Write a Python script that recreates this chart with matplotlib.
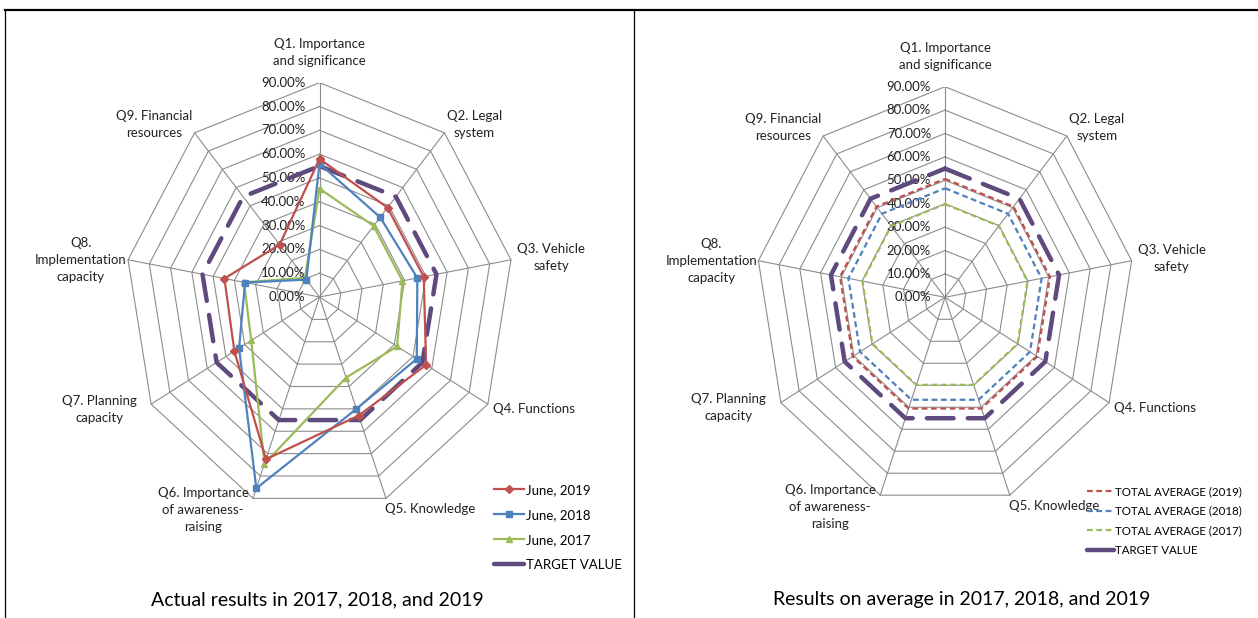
import numpy as np
import matplotlib
matplotlib.use("Agg")
import matplotlib.pyplot as plt
from matplotlib.lines import Line2D

plt.rcParams['font.family'] = ['Lato', 'DejaVu Sans']

# ---- data (percent) ----
categories = [
    "Q1. Importance\nand significance",
    "Q2. Legal\nsystem",
    "Q3. Vehicle\nsafety",
    "Q4. Functions",
    "Q5. Knowledge",
    "Q6. Importance\nof awareness-\nraising",
    "Q7. Planning\ncapacity",
    "Q8.\nImplementation\ncapacity",
    "Q9. Financial\nresources",
]
june_2019 = [58.0, 49.0, 49.0, 57.0, 53.0, 72.5, 45.5, 44.7, 28.7]
june_2018 = [56.0, 43.7, 46.0, 52.0, 50.0, 85.5, 43.0, 35.0, 9.5]
june_2017 = [45.5, 39.0, 39.0, 41.5, 36.0, 74.5, 36.5, 35.5, 10.5]
target_value = [55.0, 55.0, 55.0, 55.0, 55.0, 55.0, 55.0, 55.0, 55.0]

avg_2019 = [50.6, 50.6, 50.6, 50.6, 50.6, 50.6, 50.6, 50.6, 50.6]
avg_2018 = [46.6, 46.6, 46.6, 46.6, 46.6, 46.6, 46.6, 46.6, 46.6]
avg_2017 = [39.8, 39.8, 39.8, 39.8, 39.8, 39.8, 39.8, 39.8, 39.8]

ring_ticks = [0, 10, 20, 30, 40, 50, 60, 70, 80, 90]
captions = ["Actual results in 2017, 2018, and 2019",
            "Results on average in 2017, 2018, and 2019"]

# ---- styling ----
RED, BLUE, GREEN, PURPLE = "#C0504D", "#4F81BD", "#9BBB59", "#5F4A7E"
GRID = "#8C8C8C"
W, H = 1258, 618
RMAX = ring_ticks[-1]

fig = plt.figure(figsize=(W / 100, H / 100), dpi=100)
fig.patch.set_facecolor("white")

n = len(categories)
theta = np.arange(n) * 2 * np.pi / n  # clockwise from top


def closed(vals):
    v = np.asarray(vals, dtype=float)
    t = np.append(theta, theta[0])
    v = np.append(v, v[0])
    return v * np.sin(t), v * np.cos(t)


# offsets (pixels) of each category label from its outer vertex
label_offsets = [(0, 30), (30, 8), (40, 2), (46, -5), (44, -11),
                 (-50, -12), (-52, -5), (-47, 0), (-40, 8)]


def radar_axes(cx, cy, rx, ry):
    ax = fig.add_axes([(cx - rx) / W, (H - cy - ry) / H, 2 * rx / W, 2 * ry / H])
    ax.set_xlim(-RMAX, RMAX)
    ax.set_ylim(-RMAX, RMAX)
    ax.axis("off")
    # polygon grid
    for r in ring_ticks[1:]:
        x, y = closed([r] * n)
        ax.plot(x, y, color=GRID, lw=0.8, zorder=1)
    for t in theta:
        ax.plot([0, RMAX * np.sin(t)], [0, RMAX * np.cos(t)], color=GRID, lw=0.8, zorder=1)
    # radial tick labels along the first spoke
    for r in ring_ticks:
        ax.annotate(f"{r:.2f}%", xy=(0, r), xytext=(-14, 0), textcoords="offset pixels",
                    ha="right", va="center", fontsize=9.5, color="#222222", zorder=2,
                    annotation_clip=False)
    # category labels
    for t, lab, (dx, dy) in zip(theta, categories, label_offsets):
        ax.annotate(lab, xy=(RMAX * np.sin(t), RMAX * np.cos(t)), xytext=(dx, dy),
                    textcoords="offset pixels", ha="center", va="center",
                    multialignment="center", fontsize=9.5, linespacing=1.5,
                    color="#222222", annotation_clip=False)
    return ax


# ---- left: actual results ----
ax1 = radar_axes(319.5, 297.0, 194.4, 214.3)
x, y = closed(target_value)
ax1.plot(x, y, color=PURPLE, lw=3.2, dashes=(6, 3.2), dash_capstyle="round", zorder=3)
for vals, col, mk, ms in [(june_2019, RED, "D", 4.5), (june_2018, BLUE, "s", 5),
                          (june_2017, GREEN, "^", 5)][::-1]:
    x, y = closed(vals)
    ax1.plot(x, y, color=col, lw=1.6, marker=mk, markersize=ms, zorder=4)

h1 = [Line2D([], [], color=RED, lw=1.6, marker="D", markersize=4.5),
      Line2D([], [], color=BLUE, lw=1.6, marker="s", markersize=5),
      Line2D([], [], color=GREEN, lw=1.6, marker="^", markersize=5),
      Line2D([], [], color=PURPLE, lw=3.2, solid_capstyle="round")]
fig.legend(h1, ["June, 2019", "June, 2018", "June, 2017", "TARGET VALUE"],
           loc="upper left", bbox_to_anchor=(494 / W, 1 - 484 / H), frameon=False,
           fontsize=9.5, handlelength=2.3, handletextpad=0.15, labelspacing=0.98,
           borderpad=0, borderaxespad=0)

# ---- right: averages ----
ax2 = radar_axes(945.0, 297.3, 189.5, 210.6)
x, y = closed(target_value)
ax2.plot(x, y, color=PURPLE, lw=3.2, dashes=(6, 3.2), dash_capstyle="round", zorder=3)
for vals, col in [(avg_2019, RED), (avg_2018, BLUE), (avg_2017, GREEN)]:
    x, y = closed(vals)
    ax2.plot(x, y, color=col, lw=1.6, dashes=(2.6, 1.6), zorder=4)

h2 = [Line2D([], [], color=RED, lw=1.6, dashes=(2.6, 1.6)),
      Line2D([], [], color=BLUE, lw=1.6, dashes=(2.6, 1.6)),
      Line2D([], [], color=GREEN, lw=1.6, dashes=(2.6, 1.6)),
      Line2D([], [], color=PURPLE, lw=3.2, solid_capstyle="round")]
fig.legend(h2, ["TOTAL AVERAGE (2019)", "TOTAL AVERAGE (2018)", "TOTAL AVERAGE (2017)",
                "TARGET VALUE"],
           loc="upper left", bbox_to_anchor=(1087 / W, 1 - 486 / H), frameon=False,
           fontsize=8.3, handlelength=2.3, handletextpad=0.15, labelspacing=0.75,
           borderpad=0, borderaxespad=0)

# ---- captions and table frame ----
fig.text(317 / W, 1 - 600 / H, captions[0], ha="center", va="center", fontsize=14)
fig.text(962 / W, 1 - 600 / H, captions[1], ha="center", va="center", fontsize=14)

fig.add_artist(Line2D([5 / W, 1], [1 - 10 / H, 1 - 10 / H], color="black", lw=1.6,
                      transform=fig.transFigure))
fig.add_artist(Line2D([5 / W, 5 / W], [0, 1 - 10 / H], color="black", lw=0.9,
                      transform=fig.transFigure))
fig.add_artist(Line2D([634 / W, 634 / W], [0, 1 - 10 / H], color="black", lw=0.9,
                      transform=fig.transFigure))

fig.savefig("out.png", dpi=100, facecolor="white")
